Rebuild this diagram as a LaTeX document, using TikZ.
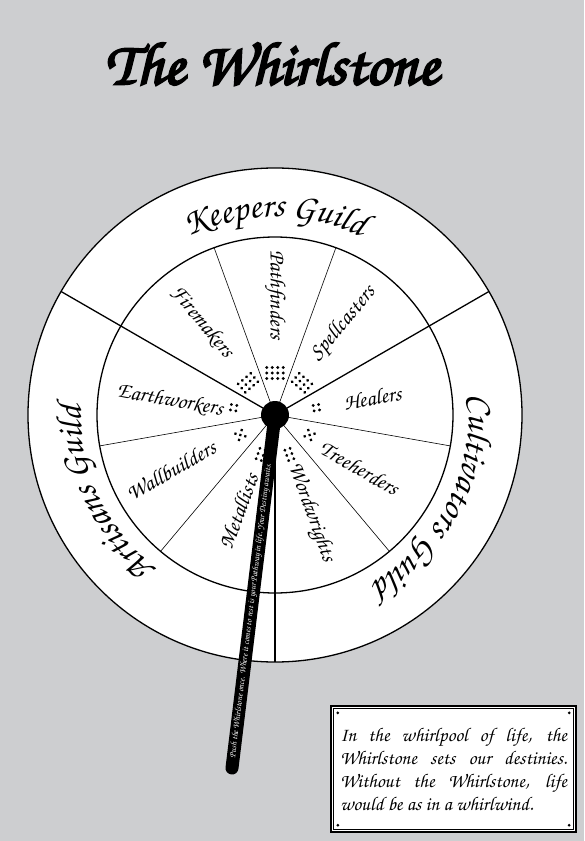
\documentclass[tikz,border=0pt]{standalone}
\usepackage[T1,TU]{fontenc}
\usepackage{graphicx}
\usepackage{tikz}
\usetikzlibrary{decorations.text,calc}
\definecolor{boardgrey}{RGB}{205,206,208}
\newcommand{\chancery}{\fontencoding{T1}\fontfamily{pzc}\fontseries{m}\fontshape{it}\selectfont}
\newcommand{\titlefont}{\chancery\fontsize{61}{62}\selectfont}
\newcommand{\guildfont}{\chancery\fontsize{36}{36}\selectfont}
\newcommand{\sectorfont}{\chancery\fontsize{22}{22}\selectfont}
\newcommand{\plaquefont}{\chancery\fontsize{19.5}{23}\selectfont}
% heavier strokes for the title (fill and stroke the glyphs)
\newcommand{\heavy}[1]{\special{pdf:literal direct 2 Tr 2.2 w}#1\special{pdf:literal direct 0 Tr}}
% pips near the hub: angle, columns, rows
\newcommand{\pips}[3]{%
  \begin{scope}[shift={(#1:42)}, rotate=#1-90]
    \foreach \i in {1,...,#2}
      \foreach \j in {1,...,#3}
        \fill[pip] ({(\i-(#2+1)/2)*5.5}, {(\j-(#3+1)/2)*5.5}) circle[radius=1.6];
  \end{scope}}
\newcommand{\fivepips}[1]{%
  \begin{scope}[shift={(#1:40)}, rotate=#1-90]
    \foreach \p in {(-3.6,-3.6),(3.6,-3.6),(0,0),(-3.6,3.6),(3.6,3.6)}
      \fill[pip] \p circle[radius=1.6];
  \end{scope}}

\begin{document}
\begin{tikzpicture}[x=1pt, y=1pt,
  ring/.style={draw=black, line width=1.3pt},
  spoke/.style={draw=black, line width=0.6pt},
  sector/.style={font=\sectorfont, inner sep=1pt},
  pip/.style={fill=black},
  plaque/.style={draw=black, line width=2.4pt, fill=white,
    minimum width=245pt, minimum height=126pt, inner sep=0pt}
]
  \fill[boardgrey] (-275,-426) rectangle (309,415);
  \useasboundingbox (-275,-426) rectangle (309,415);

  \node[font=\titlefont] (title) at (-3,352) {\heavy{The Whirlstone}};

  \coordinate (hub) at (0,0);
  \coordinate (tip) at (-43,-353);

  % the wheel
  \draw[ring, fill=white] (hub) circle[radius=247];
  \draw[ring] (hub) circle[radius=178];
  \draw[ring] (hub) -- (30:247);
  \draw[ring] (hub) -- (150:247);
  \draw[ring] (hub) -- (270:247);
  \draw[spoke] (hub) -- (70:178);
  \draw[spoke] (hub) -- (110:178);
  \draw[spoke] (hub) -- (190:178);
  \draw[spoke] (hub) -- (230:178);
  \draw[spoke] (hub) -- (310:178);
  \draw[spoke] (hub) -- (350:178);

  % guilds
  \path[decorate, decoration={text along path, text align=center,
    text={|\guildfont|Keepers Guild}}]
    (150:198) arc[start angle=150, end angle=30, radius=198];
  \path[decorate, decoration={text along path, text align=center,
    text={|\guildfont|Cultivators Guild}}]
    (33:194) arc[start angle=33, end angle=-87, radius=194];
  \path[decorate, decoration={text along path, text align=center,
    text={|\guildfont|Artisans Guild}}]
    (265:194) arc[start angle=265, end angle=145, radius=194];

  % pathways
  \node[sector, rotate=-90] (pathfinders) at (90:120) {Pathfinders};
  \node[sector, rotate=-50] (firemakers) at (128:118) {Firemakers};
  \node[sector, rotate=50] (spellcasters) at (53:114) {Spellcasters};
  \node[sector, rotate=10] (healers) at (10:99) {Healers};
  \node[sector, rotate=-30] (treeherders) at (328:100) {Treeherders};
  \node[sector, rotate=-70] (wordwrights) at (290:104) {Wordwrights};
  \node[sector, rotate=70] (metallists) at (249:103) {Metallists};
  \node[sector, rotate=30] (wallbuilders) at (208:118) {Wallbuilders};
  \node[sector, rotate=-10] (earthworkers) at (172:106) {Earthworkers};

  \pips{90}{4}{3}
  \pips{130}{4}{3}
  \pips{50}{4}{3}
  \pips{170}{2}{2}
  \pips{10}{2}{2}
  \fivepips{210}
  \fivepips{330}
  \pips{250}{2}{3}
  \pips{290}{2}{3}

  % the pointer
  \draw[line width=13pt, line cap=round] (hub) -- (tip);
  \fill (hub) circle[radius=14];
  \node[rotate=83.05, text=white, inner sep=0pt] (motto) at ($(hub)!0.555!(tip)$)
    {\resizebox{296pt}{6.5pt}{\chancery Push the Whirlstone once. Where it comes to rest is your Pathway in life. Your Destiny awaits.}};

  % plaque
  \node[plaque] (plaque) at (178.5,-354) {};
  \draw[line width=0.6pt] ($(plaque.north west)+(3.5,-3.5)$) rectangle ($(plaque.south east)+(-3.5,3.5)$);
  \fill ($(plaque.north west)+(8,-8)$) circle[radius=1.5];
  \fill ($(plaque.north east)+(-8,-8)$) circle[radius=1.5];
  \fill ($(plaque.south west)+(8,8)$) circle[radius=1.5];
  \fill ($(plaque.south east)+(-8,8)$) circle[radius=1.5];
  \node[font=\plaquefont, text width=227pt, align=justify, inner sep=0pt] (verse) at (plaque.center)
    {In the whirlpool of life, the\linebreak Whirlstone sets our destinies.\linebreak Without the Whirlstone, life\linebreak would be as in a whirlwind.};
\end{tikzpicture}
\end{document}
